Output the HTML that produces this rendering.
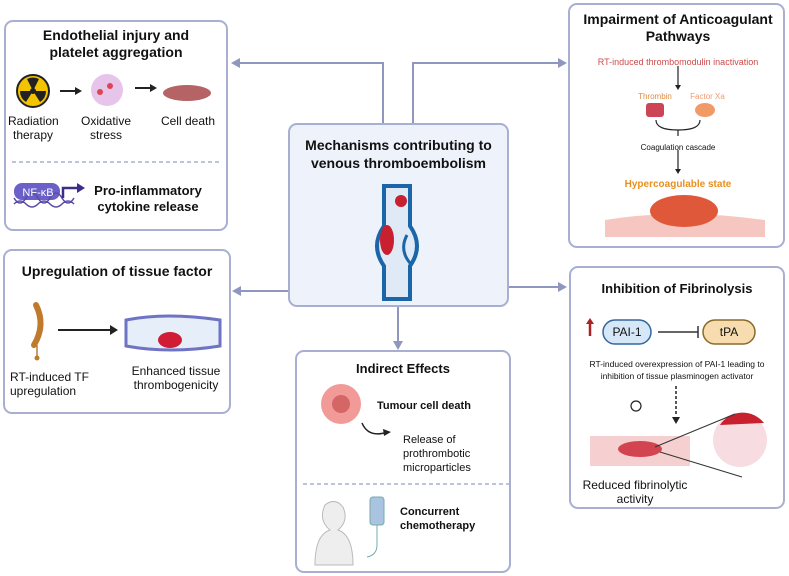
<!DOCTYPE html>
<html><head><meta charset="utf-8"><style>
body{margin:0;width:789px;height:576px;background:#fff;position:relative;overflow:hidden;font-family:"Liberation Sans",sans-serif;color:#111}
.box{position:absolute;border:2px solid #a9afd0;border-radius:9px;box-sizing:border-box;background:#fff}
.t{position:absolute;font-weight:bold;text-align:center;font-size:15px;line-height:18px}
.s{position:absolute;font-size:12px;line-height:14px;text-align:center}
svg{position:absolute;left:0;top:0}
</style></head><body>
<div class="box" style="left:4px;top:20px;width:224px;height:211px"></div>
<div class="box" style="left:568px;top:3px;width:217px;height:245px"></div>
<div class="box" style="left:3px;top:249px;width:228px;height:165px"></div>
<div class="box" style="left:569px;top:266px;width:216px;height:243px"></div>
<div class="box" style="left:295px;top:350px;width:216px;height:223px"></div>
<div class="box" style="left:288px;top:123px;width:221px;height:184px;background:#eef2fa"></div>

<svg width="789" height="576">
<g stroke="#8f97bf" stroke-width="2" fill="none">
<path d="M383 123V63H236"/><path d="M413 123V63H562"/>
<path d="M288 291H237"/><path d="M509 287H562"/><path d="M398 307V345"/>
</g>
<g fill="#8f97bf">
<path d="M231 63l9-5v10z"/><path d="M567 63l-9-5v10z"/><path d="M232 291l9-5v10z"/><path d="M567 287l-9-5v10z"/><path d="M398 350l-5-9h10z"/>
</g>
<circle cx="33" cy="91" r="16" fill="#f5c400" stroke="#222" stroke-width="2"/>
<circle cx="33" cy="91" r="3" fill="#222"/>
<path d="M33 91L27 79A13 13 0 0 1 39 79Z M33 91L46 91A13 13 0 0 1 40 102Z M33 91L26 102A13 13 0 0 1 20 91Z" fill="#222"/>
<path d="M60 91h18" stroke="#222" stroke-width="2"/><path d="M82 91l-7-4v8z" fill="#222"/>
<circle cx="107" cy="90" r="16" fill="#e7c5ea"/><circle cx="100" cy="92" r="3" fill="#d45"/><circle cx="110" cy="86" r="3" fill="#d45"/>
<path d="M135 88h18" stroke="#222" stroke-width="2"/><path d="M157 88l-7-4v8z" fill="#222"/>
<ellipse cx="187" cy="93" rx="24" ry="8" fill="#b56364"/>
<path d="M12 162h208" stroke="#a9afd0" stroke-width="1.5" stroke-dasharray="4 3"/>
<rect x="14" y="183" width="46" height="17" rx="8" fill="#6a60c8"/>
<path d="M14 204q6-6 12 0t12 0t12 0t12 0t12 0M14 198q6 10 12 0t12 0t12 0t12 0t12 0" stroke="#5a4aa8" stroke-width="1.5" fill="none"/>
<path d="M63 198v-10h15" stroke="#3c2d88" stroke-width="2.5" fill="none"/><path d="M85 188l-8-5v10z" fill="#3c2d88"/>
<path d="M36 305q10 20 -2 40" stroke="#c07a2c" stroke-width="6" fill="none" stroke-linecap="round"/>
<path d="M37 345v12" stroke="#c07a2c" stroke-width="1.5"/><circle cx="37" cy="358" r="2.5" fill="#c07a2c"/>
<path d="M58 330h55" stroke="#222" stroke-width="2"/><path d="M118 330l-8-5v10z" fill="#222"/>
<path d="M126 320q40-8 94 0v26q-50 8 -94 0z" fill="#e6eefa" stroke="#6f73c4" stroke-width="3"/>
<ellipse cx="170" cy="340" rx="12" ry="8" fill="#d01d35"/>
<path d="M384 186v40q-14 20 0 40v33h26v-33q14-20 0-40v-40z" fill="#dfeaf6" stroke="#1b66a8" stroke-width="4"/>
<ellipse cx="387" cy="240" rx="7" ry="15" fill="#c8202f"/><circle cx="401" cy="201" r="6" fill="#c8202f"/>
<path d="M407 235q-8 15 3 28" stroke="#1b66a8" stroke-width="3" fill="none"/>
<path d="M678 66v20" stroke="#222" stroke-width="1.2"/><path d="M678 90l-3-5h6z" fill="#222"/>
<rect x="646" y="103" width="18" height="14" rx="3" fill="#cc4455"/><ellipse cx="705" cy="110" rx="10" ry="7" fill="#f29a66"/>
<path d="M656 120q0 10 22 10 22 0 22-10M678 130v6" stroke="#222" stroke-width="1.2" fill="none"/>
<path d="M678 150v20" stroke="#222" stroke-width="1.2"/><path d="M678 174l-3-5h6z" fill="#222"/>
<path d="M605 220q73-12 160 0v17h-160z" fill="#f6c6c0"/>
<ellipse cx="684" cy="211" rx="34" ry="16" fill="#e0583a"/>
<path d="M590 336v-14" stroke="#a22" stroke-width="2.5"/><path d="M590 318l-4 6h8z" fill="#a22"/>
<rect x="603" y="320" width="48" height="24" rx="12" fill="#d6e7f7" stroke="#3466a0" stroke-width="1.5"/>
<rect x="703" y="320" width="52" height="24" rx="12" fill="#f6dcae" stroke="#8a6a2a" stroke-width="1.5"/>
<path d="M658 332h40M698 326v12" stroke="#333" stroke-width="1.5"/>
<path d="M676 386v30" stroke="#222" stroke-width="1.5" stroke-dasharray="3 2"/><path d="M676 424l-4-7h8z" fill="#222"/>
<circle cx="636" cy="406" r="5" fill="none" stroke="#222" stroke-width="1.2"/>
<rect x="590" y="436" width="100" height="30" fill="#f6d0d0"/><ellipse cx="640" cy="449" rx="22" ry="8" fill="#c8202f" opacity=".8"/>
<circle cx="740" cy="440" r="27" fill="#f7dde2"/><path d="M720 425a27 27 0 0 1 44 -2z" fill="#c8202f"/>
<path d="M655 447l80 -33M660 452l82 25" stroke="#333" stroke-width="1"/>
<circle cx="341" cy="404" r="20" fill="#f29a98"/><circle cx="341" cy="404" r="9" fill="#d56666"/>
<path d="M362 423q6 14 22 10" stroke="#222" stroke-width="1.5" fill="none"/><path d="M391 432l-8-3 1 7z" fill="#222"/>
<path d="M303 484h206" stroke="#a9afd0" stroke-width="1.5" stroke-dasharray="4 3"/>
<path d="M315 565q0-30 15-35q-12-10-5-25q10-8 18 2q6 14-5 23q15 5 15 35z" fill="#eee" stroke="#bbb"/>
<rect x="370" y="497" width="14" height="28" rx="3" fill="#a8c4e0" stroke="#7aa"/>
<path d="M377 525v20q0 10-10 12" stroke="#7aa" fill="none"/>
</svg>

<div class="t" style="left:4px;top:27px;width:224px;font-size:14px;line-height:17px">Endothelial injury and<br>platelet aggregation</div>
<div class="s" style="left:8px;top:114px;width:50px">Radiation therapy</div>
<div class="s" style="left:78px;top:114px;width:56px">Oxidative stress</div>
<div class="s" style="left:160px;top:114px;width:56px">Cell death</div>
<div class="s" style="left:16px;top:186px;width:44px;color:#fff;font-size:11px">NF-κB</div>
<div class="t" style="left:88px;top:183px;width:120px;font-size:13px;line-height:16px">Pro-inflammatory<br>cytokine release</div>
<div class="t" style="left:580px;top:11px;width:196px;font-size:14px;line-height:17px">Impairment of Anticoagulant<br>Pathways</div>
<div class="s" style="left:575px;top:55px;width:206px;font-size:9px;color:#cc4a4a">RT-induced thrombomodulin inactivation</div>
<div class="s" style="left:630px;top:90px;width:50px;font-size:8px;color:#e08a40">Thrombin</div>
<div class="s" style="left:685px;top:90px;width:45px;font-size:8px;color:#f09a70">Factor Xa</div>
<div class="s" style="left:620px;top:141px;width:116px;font-size:8px">Coagulation cascade</div>
<div class="s" style="left:600px;top:178px;width:156px;font-size:10px;font-weight:bold;color:#e8901e">Hypercoagulable state</div>
<div class="t" style="left:288px;top:136px;width:221px;font-size:14px;line-height:18px">Mechanisms contributing to<br>venous thromboembolism</div>
<div class="t" style="left:3px;top:262px;width:228px;font-size:14px">Upregulation of tissue factor</div>
<div class="s" style="left:10px;top:370px;width:90px;text-align:left">RT-induced TF<br>upregulation</div>
<div class="s" style="left:126px;top:364px;width:100px">Enhanced tissue thrombogenicity</div>
<div class="t" style="left:569px;top:280px;width:216px;font-size:13px">Inhibition of Fibrinolysis</div>
<div class="s" style="left:603px;top:325px;width:48px;font-size:12px">PAI-1</div>
<div class="s" style="left:703px;top:325px;width:52px;font-size:12px">tPA</div>
<div class="s" style="left:572px;top:358px;width:210px;font-size:8.5px;line-height:12px">RT-induced overexpression of PAI-1 leading to inhibition of tissue plasminogen activator</div>
<div class="s" style="left:570px;top:478px;width:130px">Reduced fibrinolytic<br>activity</div>
<div class="t" style="left:295px;top:360px;width:216px;font-size:13px">Indirect Effects</div>
<div class="t" style="left:377px;top:397px;width:130px;font-size:11px;text-align:left">Tumour cell death</div>
<div class="s" style="left:403px;top:433px;width:100px;text-align:left;font-size:11px">Release of prothrombotic microparticles</div>
<div class="t" style="left:400px;top:505px;width:100px;font-size:11px;line-height:14px;text-align:left">Concurrent chemotherapy</div>
</body></html>
